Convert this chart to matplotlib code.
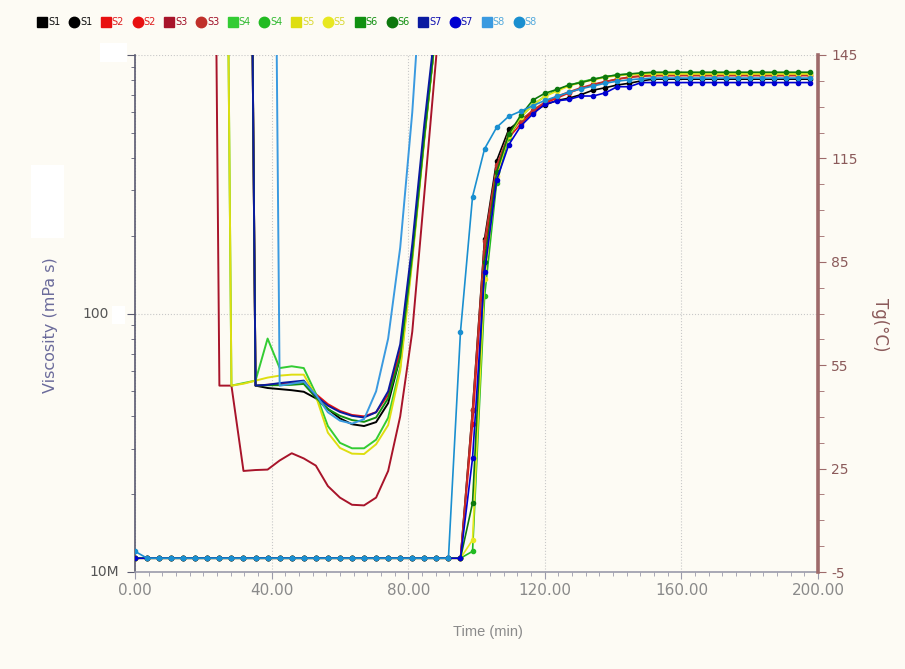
import matplotlib
matplotlib.use("Agg")
import matplotlib.pyplot as plt
from matplotlib.lines import Line2D
from matplotlib.patches import Rectangle
from matplotlib.transforms import blended_transform_factory
from matplotlib.ticker import FixedLocator, AutoMinorLocator, LogLocator, FuncFormatter, NullFormatter
import numpy as np

plt.rcParams['axes.unicode_minus'] = False

# one reading every 3.53 min
time = np.arange(57) * 3.53
visc_time = time[6:27]

names = ["S1", "S2", "S3", "S4", "S5", "S6", "S7", "S8"]
visc_colors = ["#000000", "#e81010", "#a8142a", "#33cc33", "#dede10", "#119011", "#0a1aa0", "#3a9ae0"]
tg_colors = ["#000000", "#e81010", "#c0302a", "#22bb22", "#e8e820", "#0d780d", "#0000d0", "#1a8fd0"]
text_colors = ["#111111", "#e02020", "#a01028", "#33bb33", "#d8d830", "#119011", "#1010b0", "#55aadd"]

visc_ticks = [10, 100]
visc_tick_text = ["10M", "100"]

nan = np.nan
# viscosity (mPa s), readings 6..26
visc_s1 = [nan, nan, nan, 1e7, 52.6, 51.5, 51.0, 50.5, 49.8, 47.0, 42.7, 39.3, 37.3, 36.7, 38.0, 45.0, 68, 170, 490, 1300, 1e5]
visc_s2 = [nan, nan, nan, 1e7, 52.6, 53.0, 53.4, 53.8, 54.4, 48.8, 44.6, 42.0, 40.5, 40.0, 41.5, 48.5, 72, 175, 490, 1300, 1e5]
visc_s3 = [1e7, 52.6, 52.6, 24.6, 24.8, 24.9, 27.0, 28.8, 27.5, 25.8, 21.5, 19.4, 18.2, 18.1, 19.4, 24.6, 40, 85, 290, 1000, 1e5]
visc_s4 = [nan, 1e7, 52.6, 53.8, 55.0, 80.0, 61.5, 62.5, 61.5, 49.0, 36.7, 31.6, 30.1, 30.1, 32.5, 39.5, 62, 165, 480, 1300, 1e5]
visc_s5 = [nan, 1e7, 52.6, 53.5, 55.0, 56.5, 57.5, 58.0, 58.0, 48.0, 34.6, 30.2, 28.7, 28.6, 31.2, 37.0, 60, 160, 470, 1300, 1e5]
visc_s6 = [nan, nan, nan, 1e7, 52.6, 52.8, 52.8, 53.0, 53.4, 47.3, 42.7, 40.2, 38.7, 38.1, 39.6, 47.0, 68, 168, 480, 1300, 1e5]
visc_s7 = [nan, nan, nan, 1e7, 52.6, 53.0, 53.8, 54.4, 55.0, 48.0, 44.0, 41.6, 40.2, 39.6, 41.5, 50.0, 76, 185, 540, 1400, 1e5]
visc_s8 = [nan, nan, nan, nan, nan, 1e7, 52.6, 53.5, 54.5, 48.5, 41.5, 38.5, 37.5, 39.0, 50.0, 80.0, 180, 600, 3000, 1e5, nan]

# Tg (°C): flat start, rise from reading 27, plateau from reading 43
tg_s1 = [-1.0] * 27 + [-1, 42, 91.7, 114.3, 123.4, 126.1, 128.5, 130.5, 131.8, 132.5, 133.5, 134.8, 135.5, 136.3, 136.8, 137.5] + [138.0] * 14
tg_s2 = [-1.0] * 27 + [-1, 38, 88, 112, 121, 125, 128.5, 131, 132.5, 134, 135.3, 136.3, 137.2, 138, 138.6, 139] + [139.2] * 14
tg_s3 = [-1.0] * 27 + [-1, 42, 91, 113, 122, 126, 129, 131.3, 133, 134.3, 135.5, 136.5, 137.3, 138, 138.5, 138.8] + [139.0] * 14
tg_s4 = [-1.0] * 27 + [-1, 1, 75, 108, 121, 127, 130.5, 133, 134.8, 136.2, 137.2, 138, 138.7, 139.2, 139.5, 139.6] + [139.7] * 14
tg_s5 = [-1.0] * 27 + [-1, 4.3, 80, 110, 121.5, 127, 130.5, 133, 134.5, 136, 137, 137.8, 138.5, 139, 139.3, 139.4] + [139.5] * 14
tg_s6 = [-1.0] * 27 + [-1, 15, 85, 111, 122, 127.5, 131.9, 133.9, 135, 136.3, 137, 137.9, 138.7, 139.2, 139.5, 139.8] + [140.0] * 14
tg_s7 = [-1.0] * 27 + [-1, 28, 82, 108.7, 118.9, 124.4, 127.9, 130.7, 131.7, 132.1, 133.1, 133.1, 134, 135.8, 135.8, 137] + [137.0] * 14
tg_s8 = [1.0] + [-1.0] * 26 + [64.7, 103.9, 117.8, 124, 127.2, 128.7, 130.3, 131.8, 133, 134.2, 135.2, 136, 136.8, 137.4, 137.8, 138.1] + [138.3] * 14

visc_all = [visc_s1, visc_s2, visc_s3, visc_s4, visc_s5, visc_s6, visc_s7, visc_s8]
tg_all = [tg_s1, tg_s2, tg_s3, tg_s4, tg_s5, tg_s6, tg_s7, tg_s8]

bg = "#fdfbf4"
W, H = 905, 669

fig = plt.figure(figsize=(W / 100, H / 100), dpi=100, facecolor=bg)
ax = fig.add_axes([135 / W, 1 - 572 / H, (818 - 135) / W, (572 - 55) / H])
ax.set_facecolor(bg)

for v, c in zip(visc_all, visc_colors):
    ax.plot(visc_time, v, color=c, lw=1.4)

ax.set_yscale("log")
ax.set_ylim(10, 1000)
ax.set_xlim(0, 200)
ax.grid(True, which="major", ls=":", color="#c8c8c8", lw=0.8)

ax.xaxis.set_major_locator(FixedLocator([0, 40, 80, 120, 160, 200]))
ax.xaxis.set_minor_locator(AutoMinorLocator(10))
ax.xaxis.set_major_formatter(FuncFormatter(lambda x, p: "%.2f" % x))
ax.yaxis.set_major_locator(FixedLocator([10, 100, 1000]))
ax.yaxis.set_minor_locator(LogLocator(subs=range(2, 10)))
ax.yaxis.set_minor_formatter(NullFormatter())
ax.yaxis.set_major_formatter(NullFormatter())

ax.tick_params(axis="x", which="major", length=5, color="#9a9aaa", labelcolor="#8a8a8a", labelsize=11, pad=3)
ax.tick_params(axis="x", which="minor", length=3, color="#9a9aaa")
ax.tick_params(axis="y", which="major", length=6, color="#5a5a70")
ax.tick_params(axis="y", which="minor", length=3, color="#5a5a70")

# left labels sit at their own offsets from the spine
lab_tf = blended_transform_factory(fig.transFigure, ax.transData)
for val, txt, xr in zip(visc_ticks, visc_tick_text, [119, 109]):
    ax.text(xr / W, val, txt, transform=lab_tf, ha="right", va="center",
            color="#555555", fontsize=10, clip_on=False)

for s in ["top", "right"]:
    ax.spines[s].set_visible(False)
ax.spines["left"].set_color("#5a5a70")
ax.spines["left"].set_linewidth(1.2)
ax.spines["bottom"].set_color("#9a9aaa")
ax.spines["bottom"].set_linewidth(1.2)

ax2 = ax.twinx()
for tg, c in zip(tg_all, tg_colors):
    ax2.plot(time, tg, color=c, lw=1.2, marker="o", ms=3)
ax2.set_ylim(-5, 145)
ax2.yaxis.set_major_locator(FixedLocator([-5, 25, 55, 85, 115, 145]))
ax2.yaxis.set_minor_locator(AutoMinorLocator(4))
ax2.tick_params(axis="y", which="major", length=6, color="#9e6a6a", labelcolor="#8b5a5a", labelsize=10)
ax2.tick_params(axis="y", which="minor", length=4, color="#9e6a6a")
for s in ["top", "left", "bottom"]:
    ax2.spines[s].set_visible(False)
ax2.spines["right"].set_color("#9e6a6a")
ax2.spines["right"].set_linewidth(2.6)

fig.text(50 / W, 1 - 325 / H, "Viscosity (mPa s)", rotation=90, ha="center", va="center",
         color="#6b6b9b", fontsize=11.5)
fig.text(880 / W, 1 - 325 / H, "Tg(°C)", rotation=270, ha="center", va="center",
         color="#8b5a5a", fontsize=12)
fig.text(488 / W, 1 - 632 / H, "Time (min)", ha="center", va="center",
         color="#8a8a8a", fontsize=10.5, family="Liberation Sans")

# blank boxes over the left side
for x0, y0, x1, y1 in [(100, 43, 127, 62), (31, 165, 64, 238), (112, 306, 125, 324)]:
    fig.add_artist(Rectangle((x0 / W, 1 - y1 / H), (x1 - x0) / W, (y1 - y0) / H,
                             transform=fig.transFigure, facecolor="white", edgecolor="none"))

handles, labels = [], []
for n, vc, tc in zip(names, visc_colors, tg_colors):
    handles.append(Line2D([], [], ls="none", marker="s", ms=7, color=vc))
    labels.append(n)
    handles.append(Line2D([], [], ls="none", marker="o", ms=7.5, color=tc))
    labels.append(n)
leg = fig.legend(handles, labels, loc="center left", bbox_to_anchor=(38 / W, 1 - 22 / H), ncol=16,
                 frameon=False, fontsize=7, handlelength=0.9, handletextpad=0.15,
                 columnspacing=0.95, borderpad=0, borderaxespad=0)
for i, t in enumerate(leg.get_texts()):
    t.set_color(text_colors[i // 2])

fig.savefig("out.png", dpi=100, facecolor=bg)
